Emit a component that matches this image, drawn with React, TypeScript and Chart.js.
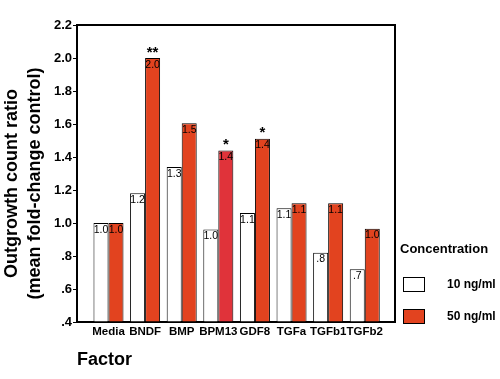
import React, { useEffect, useRef } from 'react';
import { Chart, registerables } from 'chart.js';

Chart.register(...registerables);

const factors = ['Media', 'BNDF', 'BMP', 'BPM13', 'GDF8', 'TGFa', 'TGFb1', 'TGFb2'];
const low = [1.0, 1.18, 1.34, 0.96, 1.06, 1.09, 0.82, 0.72];
const high = [1.0, 2.0, 1.605, 1.44, 1.51, 1.12, 1.12, 0.965];
const lowLabels = ['1.0', '1.2', '1.3', '1.0', '1.1', '1.1', '.8', '.7'];
const highLabels = ['1.0', '2.0', '1.5', '1.4', '1.4', '1.1', '1.1', '1.0'];
const highStars = ['', '**', '', '*', '*', '', '', ''];
const seriesNames = ['10 ng/ml', '50 ng/ml'];
const yTicks = [0.4, 0.6, 0.8, 1.0, 1.2, 1.4, 1.6, 1.8, 2.0, 2.2];
const yTitle = ['Outgrowth count ratio', '(mean fold-change control)'];
const xTitle = 'Factor';
const legendTitle = 'Concentration';

const ORANGE = '#E2431F';
const RED = '#E0333A';
const highColors = factors.map((f) => (f === 'BPM13' ? RED : ORANGE));

const fmt = (v: number) => {
  const s = Number(v).toFixed(1);
  return s.startsWith('0') ? s.slice(1) : s;
};

const annotPlugin = {
  id: 'annot',
  afterDatasetsDraw(chart: any) {
    const ctx = chart.ctx;
    ctx.save();
    ctx.fillStyle = '#000';
    ctx.textAlign = 'center';
    ctx.textBaseline = 'top';
    ctx.font = '10.5px Arial';
    [lowLabels, highLabels].forEach((labels, di) => {
      chart.getDatasetMeta(di).data.forEach((el: any, i: number) => {
        ctx.fillText(labels[i], el.x, el.y + 1.5);
      });
    });
    ctx.font = 'bold 15px Arial';
    ctx.textBaseline = 'alphabetic';
    chart.getDatasetMeta(1).data.forEach((el: any, i: number) => {
      if (highStars[i]) ctx.fillText(highStars[i], el.x, el.y - 1.5);
    });
    ctx.restore();
  },
  afterDraw(chart: any) {
    const ctx = chart.ctx;
    const { left, top, right, bottom } = chart.chartArea;
    ctx.save();
    ctx.strokeStyle = '#000';
    ctx.lineWidth = 2;
    ctx.beginPath();
    ctx.moveTo(left - 1, top);
    ctx.lineTo(right, top);
    ctx.lineTo(right, bottom + 1);
    ctx.stroke();

    ctx.fillStyle = '#000';
    ctx.font = 'bold 18px Arial';
    ctx.textAlign = 'center';
    ctx.textBaseline = 'middle';
    const cy = (top + bottom) / 2 + 10;
    yTitle.forEach((t, i) => {
      ctx.save();
      ctx.translate(12 + i * 23, cy);
      ctx.rotate(-Math.PI / 2);
      ctx.fillText(t, 0, 0);
      ctx.restore();
    });

    const lx = right + 5;
    ctx.textAlign = 'left';
    ctx.textBaseline = 'alphabetic';
    ctx.font = 'bold 13px Arial';
    ctx.fillText(legendTitle, lx, 253);
    const fills = ['#FFFFFF', ORANGE];
    ctx.lineWidth = 1;
    seriesNames.forEach((name, i) => {
      const by = 277.5 + i * 32;
      ctx.fillStyle = fills[i];
      ctx.fillRect(lx + 3.5, by, 21, 14);
      ctx.strokeStyle = '#000';
      ctx.strokeRect(lx + 3.5, by, 21, 14);
      ctx.fillStyle = '#000';
      ctx.font = 'bold 12px Arial';
      ctx.textBaseline = 'middle';
      ctx.fillText(name, lx + 47, by + 7.5);
    });
    ctx.restore();
  },
};

export default function App() {
  const ref = useRef<HTMLCanvasElement | null>(null);
  useEffect(() => {
    if (!ref.current) return;
    const chart = new Chart(ref.current, {
      type: 'bar',
      data: {
        datasets: [
          {
            label: seriesNames[0],
            data: low.map((v, i) => ({ x: i + 1, y: v })),
            backgroundColor: '#FFFFFF',
            borderColor: '#000',
            borderWidth: 1,
            base: 0.4,
          } as any,
          {
            label: seriesNames[1],
            data: high.map((v, i) => ({ x: i + 1, y: v })),
            backgroundColor: highColors,
            borderColor: '#000',
            borderWidth: 1,
            base: 0.4,
          } as any,
        ],
      },
      options: {
        responsive: false,
        animation: false,
        maintainAspectRatio: false,
        categoryPercentage: 0.82,
        barPercentage: 1.0,
        layout: { padding: { left: 0, top: 25, right: 105, bottom: 0 } },
        plugins: {
          legend: { display: false },
          tooltip: { enabled: false },
        },
        scales: {
          x: {
            type: 'linear',
            offset: false,
            min: 0.14,
            max: 8.826,
            afterBuildTicks: (scale: any) => {
              scale.ticks = factors.map((_, i) => ({ value: i + 1 }));
            },
            afterFit: (scale: any) => {
              scale.height = 57;
            },
            ticks: {
              autoSkip: false,
              maxRotation: 0,
              padding: 3,
              color: '#000',
              font: { family: 'Arial', size: 11.5, weight: 'bold' },
              callback: (v: any) => factors[Math.round(Number(v)) - 1] ?? '',
            },
            grid: { display: false, drawTicks: false },
            border: { display: true, color: '#000', width: 2 },
            title: {
              display: true,
              text: xTitle,
              align: 'start',
              color: '#000',
              font: { family: 'Arial', size: 18, weight: 'bold' },
              padding: { top: 0, bottom: 8 },
            },
          },
          y: {
            min: 0.4,
            max: 2.2,
            afterBuildTicks: (scale: any) => {
              scale.ticks = yTicks.map((v) => ({ value: v }));
            },
            afterFit: (scale: any) => {
              scale.width = 77;
            },
            ticks: {
              padding: 1,
              color: '#000',
              font: { family: 'Arial', size: 13, weight: 'bold' },
              callback: (v: any) => fmt(Number(v)),
            },
            grid: {
              display: true,
              drawOnChartArea: false,
              drawTicks: true,
              tickLength: 4,
              color: '#000',
              lineWidth: 1,
            },
            border: { display: true, color: '#000', width: 2 },
          },
        },
      } as any,
      plugins: [annotPlugin],
    });
    return () => chart.destroy();
  }, []);

  return (
    <div style={{ position: 'fixed', left: 0, top: 0, width: 500, height: 379, background: '#fff' }}>
      <canvas ref={ref} width={500} height={379} style={{ display: 'block' }} />
    </div>
  );
}
